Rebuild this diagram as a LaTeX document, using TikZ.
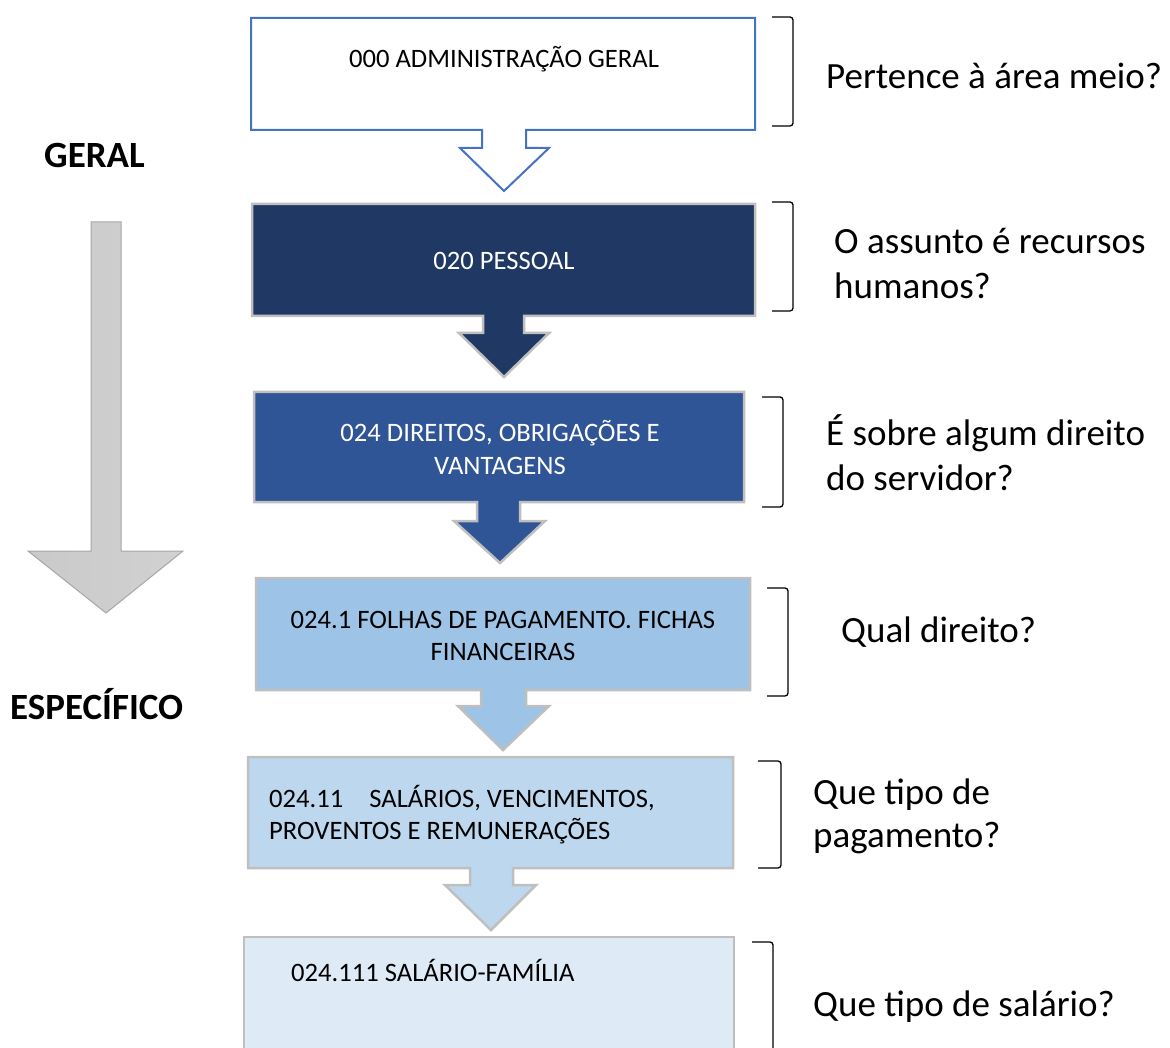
\documentclass[tikz,border=0pt]{standalone}
\usepackage{fontspec}
\setmainfont{Carlito}
\definecolor{boxA}{HTML}{203864}
\definecolor{boxB}{HTML}{2F5597}
\definecolor{boxC}{HTML}{9DC3E6}
\definecolor{boxD}{HTML}{BDD7EE}
\definecolor{boxE}{HTML}{DEEBF7}
\definecolor{edgeblue}{HTML}{4472C4}
\definecolor{edgegray}{HTML}{BFBFBF}
\definecolor{arrgray}{HTML}{A6A6A6}
\begin{document}
\begin{tikzpicture}[x=1pt,y=-1pt,
  boxtxt/.style={inner sep=0pt, font=\fontsize{26.6}{32.6}\selectfont},
  qtxt/.style={inner sep=0pt, anchor=base west, font=\fontsize{37}{45}\selectfont},
  sidetxt/.style={inner sep=0pt, anchor=base west, font=\fontsize{37}{45}\selectfont\bfseries},
  brk/.style={draw=black, line width=1.3pt, rounded corners=3pt},
  callout/.style={draw=edgegray, line width=2.5pt, line join=miter}]
\useasboundingbox (0,0) rectangle (1170,1048);
\clip (0,0) rectangle (1170,1048);

% big gray arrow
\path[draw=arrgray, line width=1pt, left color=gray!42, right color=gray!36]
  (91,222) -- (121,222) -- (121,551) -- (183,551) -- (106,613) -- (28,551) -- (91,551) -- cycle;
\node[sidetxt] (geral) at (44,168) {GERAL};
\node[sidetxt] (espec) at (10,719) {ESPECÍFICO};

% callout 1
\path[draw=edgeblue, line width=2pt, fill=white]
  (251,18) -- (755,18) -- (755,130) -- (526,130) -- (526,148) -- (549,148) -- (504,191)
  -- (460,148) -- (482,148) -- (482,130) -- (251,130) -- cycle;
\node[boxtxt, anchor=base] (b1) at (504,68) {000 ADMINISTRAÇÃO GERAL};

% callout 2
\path[callout, fill=boxA]
  (252,204) -- (755,204) -- (755,316) -- (524,316) -- (524,333) -- (549,333) -- (504,377)
  -- (459,333) -- (483,333) -- (483,316) -- (252,316) -- cycle;
\node[boxtxt, anchor=base, text=white] (b2) at (504,270) {020 PESSOAL};

% callout 3
\path[callout, fill=boxB]
  (254,392) -- (744,392) -- (744,502) -- (520,502) -- (520,521) -- (545,521) -- (500,563)
  -- (454,521) -- (477,521) -- (477,502) -- (254,502) -- cycle;
\node[boxtxt, anchor=base, text=white] (b3a) at (500,441) {024 DIREITOS, OBRIGAÇÕES E};
\node[boxtxt, anchor=base, text=white] (b3b) at (500,474) {VANTAGENS};

% callout 4
\path[callout, fill=boxC]
  (256,578) -- (750,578) -- (750,690) -- (526,690) -- (526,706) -- (549,706) -- (503,750)
  -- (458,706) -- (481,706) -- (481,690) -- (256,690) -- cycle;
\node[boxtxt, anchor=base] (b4a) at (503,628) {024.1 FOLHAS DE PAGAMENTO. FICHAS};
\node[boxtxt, anchor=base] (b4b) at (503,660) {FINANCEIRAS};

% callout 5
\path[callout, fill=boxD]
  (248,757) -- (733,757) -- (733,868) -- (513,868) -- (513,885) -- (536,885) -- (491,930)
  -- (445,885) -- (470,885) -- (470,868) -- (248,868) -- cycle;
\node[boxtxt, anchor=base west] (b5a) at (269,807) {024.11\hspace{26pt}SALÁRIOS, VENCIMENTOS,};
\node[boxtxt, anchor=base west] (b5b) at (269,839) {PROVENTOS E REMUNERAÇÕES};

% box 6
\path[callout, fill=boxE] (244,937) rectangle (734,1070);
\node[boxtxt, anchor=base west] (b6) at (291,981) {024.111 SALÁRIO-FAMÍLIA};

% brackets
\draw[brk] (772,17) -- (793,17) -- (793,126) -- (772,126);
\draw[brk] (772,202) -- (793,202) -- (793,311) -- (772,311);
\draw[brk] (762,397) -- (783,397) -- (783,507) -- (762,507);
\draw[brk] (767,588) -- (788,588) -- (788,696) -- (767,696);
\draw[brk] (758,761) -- (781,761) -- (781,868) -- (758,868);
\draw[brk] (752,942) -- (773,942) -- (773,1070);

% questions
\node[qtxt] (q1) at (826,89) {Pertence à área meio?};
\node[qtxt] (q2a) at (834,254) {O assunto é recursos};
\node[qtxt] (q2b) at (834,299) {humanos?};
\node[qtxt] (q3a) at (826,445) {É sobre algum direito};
\node[qtxt] (q3b) at (826,490) {do servidor?};
\node[qtxt] (q4) at (841,642) {Qual direito?};
\node[qtxt] (q5a) at (813,804) {Que tipo de};
\node[qtxt] (q5b) at (813,847) {pagamento?};
\node[qtxt] (q6) at (813,1016) {Que tipo de salário?};
\end{tikzpicture}
\end{document}
